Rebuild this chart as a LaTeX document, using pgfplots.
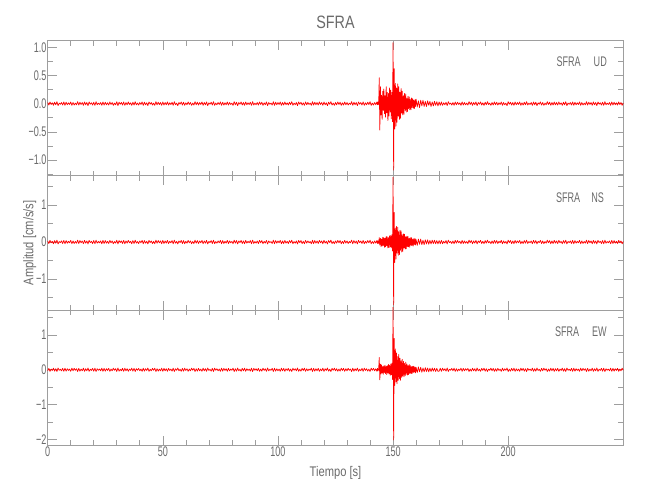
\documentclass[border=0pt]{standalone}
\usepackage{pgfplots}
\pgfplotsset{compat=1.18}
\usepackage{fontspec}
\setmainfont{Liberation Sans}[FakeStretch=0.65]
\newfontfamily\labelfont{Liberation Sans}[FakeStretch=0.8]
\definecolor{axgray}{gray}{0.62}
\definecolor{txtgray}{gray}{0.42}
\pgfplotsset{
 panel/.style={
  scale only axis, width=575.6bp, height=134.8bp,
  xmin=0, xmax=250,
  xtick={0,50,100,150,200}, minor x tick num=4,
  tick align=inside,
  axis line style={draw=axgray, line width=0.6bp},
  tick style={draw=axgray, line width=0.6bp},
  major tick length=9.5bp, minor tick length=5bp,
  tick label style={font=\fontsize{14}{14}\selectfont, text=txtgray},
  yticklabel style={inner sep=1bp},
  xticklabel style={inner sep=1.5bp},
  clip=false,
  anchor=north west,
 },
 seis/.style={red, line width=0.7bp, line join=round, mark=none},
}
\begin{document}
\begin{tikzpicture}
\path[use as bounding box] (0bp,0bp) rectangle (650bp,-500bp);
% ---------- UD ----------
\begin{axis}[panel, at={(47.7bp,-40.7bp)},
  ymin=-1.275, ymax=1.117,
  ytick={-1,-0.5,0,0.5,1}, yticklabels={−1.0,−0.5,0.0,0.5,1.0},
  minor ytick={-1.25,-0.75,-0.25,0.25,0.75},
  xticklabels={}]
\addplot[seis] table[x=t,y=v,row sep=\\]{t v\\
0 0.02\\0.5 -0.025\\1 0.03\\1.5 -0.015\\2 0.015\\2.5 -0.03\\3 0.025\\3.5 -0.02\\4 0.035\\4.5 -0.035\\5 0.01\\5.5 -0.01\\6 0.02\\6.5 -0.025\\7 0.03\\7.5 -0.03\\8 0.025\\8.5 -0.02\\9 0.015\\9.5 -0.015\\
10 0.03\\10.5 -0.03\\11 0.02\\11.5 -0.025\\12 0.01\\12.5 -0.02\\13 0.035\\13.5 -0.025\\14 0.025\\14.5 -0.015\\15 0.02\\15.5 -0.03\\16 0.03\\16.5 -0.02\\17 0.02\\17.5 -0.035\\18 0.03\\18.5 -0.01\\19 0.015\\19.5 -0.025\\
20 0.025\\20.5 -0.03\\21 0.035\\21.5 -0.02\\22 0.01\\22.5 -0.015\\23 0.02\\23.5 -0.03\\24 0.03\\24.5 -0.025\\25 0.025\\25.5 -0.02\\26 0.015\\26.5 -0.025\\27 0.03\\27.5 -0.015\\28 0.02\\28.5 -0.03\\29 0.01\\29.5 -0.02\\
30 0.035\\30.5 -0.035\\31 0.025\\31.5 -0.01\\32 0.02\\32.5 -0.025\\33 0.03\\33.5 -0.03\\34 0.02\\34.5 -0.02\\35 0.03\\35.5 -0.015\\36 0.015\\36.5 -0.03\\37 0.025\\37.5 -0.025\\38 0.035\\38.5 -0.02\\39 0.01\\39.5 -0.025\\
40 0.02\\40.5 -0.015\\41 0.03\\41.5 -0.03\\42 0.025\\42.5 -0.02\\43 0.015\\43.5 -0.035\\44 0.03\\44.5 -0.01\\45 0.02\\45.5 -0.025\\46 0.01\\46.5 -0.03\\47 0.035\\47.5 -0.02\\48 0.025\\48.5 -0.015\\49 0.02\\49.5 -0.03\\
50 0.03\\50.5 -0.025\\51 0.02\\51.5 -0.02\\52 0.03\\52.5 -0.025\\53 0.015\\53.5 -0.015\\54 0.025\\54.5 -0.03\\55 0.035\\55.5 -0.02\\56 0.01\\56.5 -0.035\\57 0.02\\57.5 -0.01\\58 0.03\\58.5 -0.025\\59 0.025\\59.5 -0.03\\
60 0.015\\60.5 -0.02\\61 0.03\\61.5 -0.015\\62 0.02\\62.5 -0.03\\63 0.01\\63.5 -0.025\\64 0.035\\64.5 -0.02\\65 0.025\\65.5 -0.025\\66 0.02\\66.5 -0.015\\67 0.03\\67.5 -0.03\\68 0.02\\68.5 -0.02\\69 0.03\\69.5 -0.035\\
70 0.015\\70.5 -0.01\\71 0.025\\71.5 -0.025\\72 0.035\\72.5 -0.03\\73 0.01\\73.5 -0.02\\74 0.02\\74.5 -0.015\\75 0.03\\75.5 -0.03\\76 0.025\\76.5 -0.025\\77 0.015\\77.5 -0.02\\78 0.03\\78.5 -0.025\\79 0.02\\79.5 -0.015\\
80 0.01\\80.5 -0.03\\81 0.035\\81.5 -0.02\\82 0.025\\82.5 -0.035\\83 0.02\\83.5 -0.01\\84 0.03\\84.5 -0.025\\85 0.02\\85.5 -0.03\\86 0.03\\86.5 -0.02\\87 0.015\\87.5 -0.015\\88 0.025\\88.5 -0.03\\89 0.035\\89.5 -0.025\\
90 0.01\\90.5 -0.02\\91 0.02\\91.5 -0.025\\92 0.03\\92.5 -0.015\\93 0.025\\93.5 -0.03\\94 0.015\\94.5 -0.02\\95 0.03\\95.5 -0.035\\96 0.02\\96.5 -0.01\\97 0.01\\97.5 -0.025\\98 0.035\\98.5 -0.03\\99 0.025\\99.5 -0.02\\
100 0.02\\100.5 -0.015\\101 0.03\\101.5 -0.03\\102 0.02\\102.5 -0.025\\103 0.03\\103.5 -0.02\\104 0.015\\104.5 -0.025\\105 0.025\\105.5 -0.015\\106 0.035\\106.5 -0.03\\107 0.01\\107.5 -0.02\\108 0.02\\108.5 -0.035\\109 0.03\\109.5 -0.01\\
110 0.025\\110.5 -0.025\\111 0.015\\111.5 -0.03\\112 0.03\\112.5 -0.02\\113 0.02\\113.5 -0.015\\114 0.01\\114.5 -0.03\\115 0.035\\115.5 -0.025\\116 0.025\\116.5 -0.02\\117 0.02\\117.5 -0.025\\118 0.03\\118.5 -0.015\\119 0.02\\119.5 -0.03\\
120 0.03\\120.5 -0.02\\121 0.015\\121.5 -0.035\\122 0.025\\122.5 -0.01\\123 0.035\\123.5 -0.025\\124 0.01\\124.5 -0.03\\125 0.02\\125.5 -0.02\\126 0.03\\126.5 -0.015\\127 0.025\\127.5 -0.03\\128 0.015\\128.5 -0.025\\129 0.03\\129.5 -0.02\\
130 0.02\\130.5 -0.025\\131 0.01\\131.5 -0.015\\132 0.035\\132.5 -0.03\\133 0.025\\133.5 -0.02\\134 0.02\\134.5 -0.035\\135 0.03\\135.5 -0.01\\136 0.02\\136.5 -0.025\\137 0.03\\137.5 -0.03\\138 0.015\\138.5 -0.02\\139 0.025\\139.5 -0.015\\
140 0.035\\140.5 -0.03\\141 0.01\\141.5 -0.025\\142 0.02\\142.5 -0.02\\143 0.03\\
143.25 -0.02\\143.5 0.03\\143.75 -0.02\\144 0.46\\144.25 -0.47\\144.5 0.30\\144.75 -0.20\\145 0.15\\145.25 -0.28\\145.5 0.22\\145.75 -0.12\\
146 0.26\\146.25 -0.18\\146.5 0.14\\146.75 -0.24\\147 0.30\\147.25 -0.16\\147.5 0.20\\147.75 -0.30\\148 0.18\\148.25 -0.22\\148.5 0.28\\148.75 -0.15\\
149 0.24\\149.25 -0.27\\149.5 0.20\\149.75 -0.32\\150 1.08\\150.25 -1.18\\150.5 0.62\\150.75 -0.45\\151 0.36\\151.25 -0.40\\151.5 0.28\\151.75 -0.33\\
152 0.35\\152.25 -0.22\\152.5 0.30\\152.75 -0.28\\153 0.20\\153.25 -0.26\\153.5 0.27\\153.75 -0.17\\154 0.22\\154.25 -0.20\\154.5 0.14\\154.75 -0.19\\
155 0.18\\155.25 -0.12\\155.5 0.17\\155.75 -0.15\\156 0.10\\156.25 -0.14\\156.5 0.13\\156.75 -0.09\\157 0.12\\157.25 -0.11\\157.5 0.08\\157.75 -0.11\\
158 0.10\\158.25 -0.07\\158.5 0.09\\158.75 -0.08\\159 0.06\\159.25 -0.09\\159.5 0.07\\159.75 -0.05\\160 0.08\\160.5 -0.06\\161 0.05\\161.5 -0.07\\
162 0.06\\162.5 -0.04\\163 0.06\\163.5 -0.05\\164 0.04\\164.5 -0.05\\165 0.05\\165.5 -0.03\\166 0.04\\166.5 -0.05\\167 0.03\\167.5 -0.04\\
168 0.04\\168.5 -0.03\\169 0.035\\169.5 -0.04\\170 0.03\\170.5 -0.03\\
171 0.03\\171.5 -0.03\\172 0.015\\172.5 -0.02\\173 0.025\\173.5 -0.035\\174 0.035\\174.5 -0.01\\175 0.01\\175.5 -0.025\\176 0.02\\176.5 -0.03\\177 0.03\\177.5 -0.02\\178 0.025\\178.5 -0.015\\179 0.015\\179.5 -0.03\\180 0.03\\180.5 -0.025\\
181 0.02\\181.5 -0.02\\182 0.01\\182.5 -0.025\\183 0.035\\183.5 -0.015\\184 0.025\\184.5 -0.03\\185 0.02\\185.5 -0.02\\186 0.03\\186.5 -0.035\\187 0.02\\187.5 -0.01\\188 0.03\\188.5 -0.025\\189 0.015\\189.5 -0.03\\190 0.025\\190.5 -0.02\\
191 0.035\\191.5 -0.015\\192 0.01\\192.5 -0.03\\193 0.02\\193.5 -0.025\\194 0.03\\194.5 -0.02\\195 0.025\\195.5 -0.025\\196 0.015\\196.5 -0.015\\197 0.03\\197.5 -0.03\\198 0.02\\198.5 -0.02\\199 0.01\\199.5 -0.035\\200 0.035\\200.5 -0.01\\
201 0.025\\201.5 -0.025\\202 0.02\\202.5 -0.03\\203 0.03\\203.5 -0.02\\204 0.02\\204.5 -0.015\\205 0.03\\205.5 -0.03\\206 0.015\\206.5 -0.025\\207 0.025\\207.5 -0.02\\208 0.035\\208.5 -0.025\\209 0.01\\209.5 -0.015\\210 0.02\\210.5 -0.03\\
211 0.03\\211.5 -0.02\\212 0.025\\212.5 -0.035\\213 0.015\\213.5 -0.01\\214 0.03\\214.5 -0.025\\215 0.02\\215.5 -0.03\\216 0.01\\216.5 -0.02\\217 0.035\\217.5 -0.015\\218 0.025\\218.5 -0.03\\219 0.02\\219.5 -0.025\\220 0.03\\220.5 -0.02\\
221 0.02\\221.5 -0.025\\222 0.03\\222.5 -0.015\\223 0.015\\223.5 -0.03\\224 0.025\\224.5 -0.02\\225 0.035\\225.5 -0.035\\226 0.01\\226.5 -0.01\\227 0.02\\227.5 -0.025\\228 0.03\\228.5 -0.03\\229 0.025\\229.5 -0.02\\230 0.015\\230.5 -0.015\\
231 0.03\\231.5 -0.03\\232 0.02\\232.5 -0.025\\233 0.01\\233.5 -0.02\\234 0.035\\234.5 -0.025\\235 0.025\\235.5 -0.015\\236 0.02\\236.5 -0.03\\237 0.03\\237.5 -0.02\\238 0.02\\238.5 -0.035\\239 0.03\\239.5 -0.01\\240 0.015\\240.5 -0.025\\
241 0.025\\241.5 -0.03\\242 0.035\\242.5 -0.02\\243 0.01\\243.5 -0.015\\244 0.02\\244.5 -0.03\\245 0.03\\245.5 -0.025\\246 0.025\\246.5 -0.02\\247 0.015\\247.5 -0.025\\248 0.03\\248.5 -0.015\\249 0.02\\249.5 -0.03\\250 0.01\\
};
\node[anchor=base, text=txtgray, font=\labelfont\fontsize{18}{18}\selectfont] at (rel axis cs:0.5,1.094) {SFRA};
\node[anchor=base east, text=txtgray, font=\fontsize{14}{14}\selectfont, inner sep=0pt] at (rel axis cs:0.9717,0.807) {SFRA\hspace{13bp}UD};
\end{axis}
% ---------- NS ----------
\begin{axis}[panel, at={(47.7bp,-175.5bp)},
  ymin=-1.843, ymax=1.797,
  ytick={-1,0,1}, yticklabels={−1,0,1},
  minor ytick={-1.5,-0.5,0.5,1.5},
  xticklabels={}]
\addplot[seis] table[x=t,y=v,row sep=\\]{t v\\
0 0.03\\0.5 -0.04\\1 0.045\\1.5 -0.02\\2 0.02\\2.5 -0.045\\3 0.04\\3.5 -0.03\\4 0.05\\4.5 -0.05\\5 0.015\\5.5 -0.015\\6 0.03\\6.5 -0.04\\7 0.045\\7.5 -0.045\\8 0.04\\8.5 -0.03\\9 0.02\\9.5 -0.02\\
10 0.045\\10.5 -0.045\\11 0.03\\11.5 -0.04\\12 0.015\\12.5 -0.03\\13 0.05\\13.5 -0.04\\14 0.04\\14.5 -0.02\\15 0.03\\15.5 -0.045\\16 0.045\\16.5 -0.03\\17 0.03\\17.5 -0.05\\18 0.045\\18.5 -0.015\\19 0.02\\19.5 -0.04\\
20 0.04\\20.5 -0.045\\21 0.05\\21.5 -0.03\\22 0.015\\22.5 -0.02\\23 0.03\\23.5 -0.045\\24 0.045\\24.5 -0.04\\25 0.04\\25.5 -0.03\\26 0.02\\26.5 -0.04\\27 0.045\\27.5 -0.02\\28 0.03\\28.5 -0.045\\29 0.015\\29.5 -0.03\\
30 0.05\\30.5 -0.05\\31 0.04\\31.5 -0.015\\32 0.03\\32.5 -0.04\\33 0.045\\33.5 -0.045\\34 0.03\\34.5 -0.03\\35 0.045\\35.5 -0.02\\36 0.02\\36.5 -0.045\\37 0.04\\37.5 -0.04\\38 0.05\\38.5 -0.03\\39 0.015\\39.5 -0.04\\
40 0.03\\40.5 -0.02\\41 0.045\\41.5 -0.045\\42 0.04\\42.5 -0.03\\43 0.02\\43.5 -0.05\\44 0.045\\44.5 -0.015\\45 0.03\\45.5 -0.04\\46 0.015\\46.5 -0.045\\47 0.05\\47.5 -0.03\\48 0.04\\48.5 -0.02\\49 0.03\\49.5 -0.045\\
50 0.045\\50.5 -0.04\\51 0.03\\51.5 -0.03\\52 0.045\\52.5 -0.04\\53 0.02\\53.5 -0.02\\54 0.04\\54.5 -0.045\\55 0.05\\55.5 -0.03\\56 0.015\\56.5 -0.05\\57 0.03\\57.5 -0.015\\58 0.045\\58.5 -0.04\\59 0.04\\59.5 -0.045\\
60 0.02\\60.5 -0.03\\61 0.045\\61.5 -0.02\\62 0.03\\62.5 -0.045\\63 0.015\\63.5 -0.04\\64 0.05\\64.5 -0.03\\65 0.04\\65.5 -0.04\\66 0.03\\66.5 -0.02\\67 0.045\\67.5 -0.045\\68 0.03\\68.5 -0.03\\69 0.045\\69.5 -0.05\\
70 0.02\\70.5 -0.015\\71 0.04\\71.5 -0.04\\72 0.05\\72.5 -0.045\\73 0.015\\73.5 -0.03\\74 0.03\\74.5 -0.02\\75 0.045\\75.5 -0.045\\76 0.04\\76.5 -0.04\\77 0.02\\77.5 -0.03\\78 0.045\\78.5 -0.04\\79 0.03\\79.5 -0.02\\
80 0.015\\80.5 -0.045\\81 0.05\\81.5 -0.03\\82 0.04\\82.5 -0.05\\83 0.03\\83.5 -0.015\\84 0.045\\84.5 -0.04\\85 0.03\\85.5 -0.045\\86 0.045\\86.5 -0.03\\87 0.02\\87.5 -0.02\\88 0.04\\88.5 -0.045\\89 0.05\\89.5 -0.04\\
90 0.015\\90.5 -0.03\\91 0.03\\91.5 -0.04\\92 0.045\\92.5 -0.02\\93 0.04\\93.5 -0.045\\94 0.02\\94.5 -0.03\\95 0.045\\95.5 -0.05\\96 0.03\\96.5 -0.015\\97 0.015\\97.5 -0.04\\98 0.05\\98.5 -0.045\\99 0.04\\99.5 -0.03\\
100 0.03\\100.5 -0.02\\101 0.045\\101.5 -0.045\\102 0.03\\102.5 -0.04\\103 0.045\\103.5 -0.03\\104 0.02\\104.5 -0.04\\105 0.04\\105.5 -0.02\\106 0.05\\106.5 -0.045\\107 0.015\\107.5 -0.03\\108 0.03\\108.5 -0.05\\109 0.045\\109.5 -0.015\\
110 0.04\\110.5 -0.04\\111 0.02\\111.5 -0.045\\112 0.045\\112.5 -0.03\\113 0.03\\113.5 -0.02\\114 0.015\\114.5 -0.045\\115 0.05\\115.5 -0.04\\116 0.04\\116.5 -0.03\\117 0.03\\117.5 -0.04\\118 0.045\\118.5 -0.02\\119 0.03\\119.5 -0.045\\
120 0.045\\120.5 -0.03\\121 0.02\\121.5 -0.05\\122 0.04\\122.5 -0.015\\123 0.05\\123.5 -0.04\\124 0.015\\124.5 -0.045\\125 0.03\\125.5 -0.03\\126 0.045\\126.5 -0.02\\127 0.04\\127.5 -0.045\\128 0.02\\128.5 -0.04\\129 0.045\\129.5 -0.03\\
130 0.03\\130.5 -0.04\\131 0.015\\131.5 -0.02\\132 0.05\\132.5 -0.045\\133 0.04\\133.5 -0.03\\134 0.03\\134.5 -0.05\\135 0.045\\135.5 -0.015\\136 0.03\\136.5 -0.04\\137 0.045\\137.5 -0.045\\138 0.02\\138.5 -0.03\\139 0.04\\139.5 -0.02\\
140 0.05\\140.5 -0.045\\141 0.015\\141.5 -0.04\\142 0.03\\142.5 -0.03\\143 0.045\\
143.25 -0.04\\143.5 0.03\\143.75 -0.04\\144 0.12\\144.25 -0.08\\144.5 0.10\\144.75 -0.12\\145 0.08\\145.25 -0.11\\145.5 0.13\\145.75 -0.09\\
146 0.12\\146.25 -0.14\\146.5 0.10\\146.75 -0.13\\147 0.15\\147.25 -0.10\\147.5 0.14\\147.75 -0.16\\148 0.12\\148.25 -0.15\\148.5 0.17\\148.75 -0.13\\
149 0.18\\149.25 -0.16\\149.5 0.20\\149.75 -0.24\\150 1.75\\150.25 -1.70\\150.5 0.80\\150.75 -0.55\\151 0.38\\151.25 -0.46\\151.5 0.42\\151.75 -0.30\\
152 0.40\\152.25 -0.36\\152.5 0.28\\152.75 -0.34\\153 0.32\\153.25 -0.22\\153.5 0.30\\153.75 -0.27\\154 0.20\\154.25 -0.25\\154.5 0.22\\154.75 -0.16\\
155 0.21\\155.25 -0.19\\155.5 0.14\\155.75 -0.18\\156 0.16\\156.25 -0.12\\156.5 0.15\\156.75 -0.13\\157 0.10\\157.25 -0.14\\157.5 0.12\\157.75 -0.09\\
158 0.12\\158.25 -0.10\\158.5 0.08\\158.75 -0.11\\159 0.09\\159.25 -0.07\\159.5 0.10\\159.75 -0.08\\160 0.07\\160.5 -0.09\\161 0.08\\161.5 -0.06\\
162 0.08\\162.5 -0.07\\163 0.05\\163.5 -0.07\\164 0.06\\164.5 -0.05\\165 0.06\\165.5 -0.06\\166 0.045\\166.5 -0.05\\167 0.05\\167.5 -0.04\\
168 0.05\\168.5 -0.045\\169 0.04\\169.5 -0.05\\170 0.04\\170.5 -0.045\\
171 0.045\\171.5 -0.045\\172 0.02\\172.5 -0.03\\173 0.04\\173.5 -0.05\\174 0.05\\174.5 -0.015\\175 0.015\\175.5 -0.04\\176 0.03\\176.5 -0.045\\177 0.045\\177.5 -0.03\\178 0.04\\178.5 -0.02\\179 0.02\\179.5 -0.045\\180 0.045\\180.5 -0.04\\
181 0.03\\181.5 -0.03\\182 0.015\\182.5 -0.04\\183 0.05\\183.5 -0.02\\184 0.04\\184.5 -0.045\\185 0.03\\185.5 -0.03\\186 0.045\\186.5 -0.05\\187 0.03\\187.5 -0.015\\188 0.045\\188.5 -0.04\\189 0.02\\189.5 -0.045\\190 0.04\\190.5 -0.03\\
191 0.05\\191.5 -0.02\\192 0.015\\192.5 -0.045\\193 0.03\\193.5 -0.04\\194 0.045\\194.5 -0.03\\195 0.04\\195.5 -0.04\\196 0.02\\196.5 -0.02\\197 0.045\\197.5 -0.045\\198 0.03\\198.5 -0.03\\199 0.015\\199.5 -0.05\\200 0.05\\200.5 -0.015\\
201 0.04\\201.5 -0.04\\202 0.03\\202.5 -0.045\\203 0.045\\203.5 -0.03\\204 0.03\\204.5 -0.02\\205 0.045\\205.5 -0.045\\206 0.02\\206.5 -0.04\\207 0.04\\207.5 -0.03\\208 0.05\\208.5 -0.04\\209 0.015\\209.5 -0.02\\210 0.03\\210.5 -0.045\\
211 0.045\\211.5 -0.03\\212 0.04\\212.5 -0.05\\213 0.02\\213.5 -0.015\\214 0.045\\214.5 -0.04\\215 0.03\\215.5 -0.045\\216 0.015\\216.5 -0.03\\217 0.05\\217.5 -0.02\\218 0.04\\218.5 -0.045\\219 0.03\\219.5 -0.04\\220 0.045\\220.5 -0.03\\
221 0.03\\221.5 -0.04\\222 0.045\\222.5 -0.02\\223 0.02\\223.5 -0.045\\224 0.04\\224.5 -0.03\\225 0.05\\225.5 -0.05\\226 0.015\\226.5 -0.015\\227 0.03\\227.5 -0.04\\228 0.045\\228.5 -0.045\\229 0.04\\229.5 -0.03\\230 0.02\\230.5 -0.02\\
231 0.045\\231.5 -0.045\\232 0.03\\232.5 -0.04\\233 0.015\\233.5 -0.03\\234 0.05\\234.5 -0.04\\235 0.04\\235.5 -0.02\\236 0.03\\236.5 -0.045\\237 0.045\\237.5 -0.03\\238 0.03\\238.5 -0.05\\239 0.045\\239.5 -0.015\\240 0.02\\240.5 -0.04\\
241 0.04\\241.5 -0.045\\242 0.05\\242.5 -0.03\\243 0.015\\243.5 -0.02\\244 0.03\\244.5 -0.045\\245 0.045\\245.5 -0.04\\246 0.04\\246.5 -0.03\\247 0.02\\247.5 -0.04\\248 0.045\\248.5 -0.02\\249 0.03\\249.5 -0.045\\250 0.015\\
};
\node[anchor=base east, text=txtgray, font=\fontsize{14}{14}\selectfont, inner sep=0pt] at (rel axis cs:0.9666,0.798) {SFRA\hspace{11bp}NS};
\node[rotate=90, anchor=center, text=txtgray, font=\labelfont\fontsize{14}{14}\selectfont] at (rel axis cs:-0.031,0.5) {Amplitud [cm/s/s]};
\end{axis}
% ---------- EW ----------
\begin{axis}[panel, at={(47.7bp,-310.2bp)},
  ymin=-2.164, ymax=1.713,
  ytick={-2,-1,0,1}, yticklabels={−2,−1,0,1},
  minor ytick={-1.5,-0.5,0.5,1.5},
  xticklabels={0,50,100,150,200}]
\addplot[seis] table[x=t,y=v,row sep=\\]{t v\\
0 -0.03\\0.5 0.04\\1 -0.045\\1.5 0.02\\2 -0.02\\2.5 0.045\\3 -0.04\\3.5 0.03\\4 -0.05\\4.5 0.05\\5 -0.015\\5.5 0.015\\6 -0.03\\6.5 0.04\\7 -0.045\\7.5 0.045\\8 -0.04\\8.5 0.03\\9 -0.02\\9.5 0.02\\
10 -0.045\\10.5 0.045\\11 -0.03\\11.5 0.04\\12 -0.015\\12.5 0.03\\13 -0.05\\13.5 0.04\\14 -0.04\\14.5 0.02\\15 -0.03\\15.5 0.045\\16 -0.045\\16.5 0.03\\17 -0.03\\17.5 0.05\\18 -0.045\\18.5 0.015\\19 -0.02\\19.5 0.04\\
20 -0.04\\20.5 0.045\\21 -0.05\\21.5 0.03\\22 -0.015\\22.5 0.02\\23 -0.03\\23.5 0.045\\24 -0.045\\24.5 0.04\\25 -0.04\\25.5 0.03\\26 -0.02\\26.5 0.04\\27 -0.045\\27.5 0.02\\28 -0.03\\28.5 0.045\\29 -0.015\\29.5 0.03\\
30 -0.05\\30.5 0.05\\31 -0.04\\31.5 0.015\\32 -0.03\\32.5 0.04\\33 -0.045\\33.5 0.045\\34 -0.03\\34.5 0.03\\35 -0.045\\35.5 0.02\\36 -0.02\\36.5 0.045\\37 -0.04\\37.5 0.04\\38 -0.05\\38.5 0.03\\39 -0.015\\39.5 0.04\\
40 -0.03\\40.5 0.02\\41 -0.045\\41.5 0.045\\42 -0.04\\42.5 0.03\\43 -0.02\\43.5 0.05\\44 -0.045\\44.5 0.015\\45 -0.03\\45.5 0.04\\46 -0.015\\46.5 0.045\\47 -0.05\\47.5 0.03\\48 -0.04\\48.5 0.02\\49 -0.03\\49.5 0.045\\
50 -0.045\\50.5 0.04\\51 -0.03\\51.5 0.03\\52 -0.045\\52.5 0.04\\53 -0.02\\53.5 0.02\\54 -0.04\\54.5 0.045\\55 -0.05\\55.5 0.03\\56 -0.015\\56.5 0.05\\57 -0.03\\57.5 0.015\\58 -0.045\\58.5 0.04\\59 -0.04\\59.5 0.045\\
60 -0.02\\60.5 0.03\\61 -0.045\\61.5 0.02\\62 -0.03\\62.5 0.045\\63 -0.015\\63.5 0.04\\64 -0.05\\64.5 0.03\\65 -0.04\\65.5 0.04\\66 -0.03\\66.5 0.02\\67 -0.045\\67.5 0.045\\68 -0.03\\68.5 0.03\\69 -0.045\\69.5 0.05\\
70 -0.02\\70.5 0.015\\71 -0.04\\71.5 0.04\\72 -0.05\\72.5 0.045\\73 -0.015\\73.5 0.03\\74 -0.03\\74.5 0.02\\75 -0.045\\75.5 0.045\\76 -0.04\\76.5 0.04\\77 -0.02\\77.5 0.03\\78 -0.045\\78.5 0.04\\79 -0.03\\79.5 0.02\\
80 -0.015\\80.5 0.045\\81 -0.05\\81.5 0.03\\82 -0.04\\82.5 0.05\\83 -0.03\\83.5 0.015\\84 -0.045\\84.5 0.04\\85 -0.03\\85.5 0.045\\86 -0.045\\86.5 0.03\\87 -0.02\\87.5 0.02\\88 -0.04\\88.5 0.045\\89 -0.05\\89.5 0.04\\
90 -0.015\\90.5 0.03\\91 -0.03\\91.5 0.04\\92 -0.045\\92.5 0.02\\93 -0.04\\93.5 0.045\\94 -0.02\\94.5 0.03\\95 -0.045\\95.5 0.05\\96 -0.03\\96.5 0.015\\97 -0.015\\97.5 0.04\\98 -0.05\\98.5 0.045\\99 -0.04\\99.5 0.03\\
100 -0.03\\100.5 0.02\\101 -0.045\\101.5 0.045\\102 -0.03\\102.5 0.04\\103 -0.045\\103.5 0.03\\104 -0.02\\104.5 0.04\\105 -0.04\\105.5 0.02\\106 -0.05\\106.5 0.045\\107 -0.015\\107.5 0.03\\108 -0.03\\108.5 0.05\\109 -0.045\\109.5 0.015\\
110 -0.04\\110.5 0.04\\111 -0.02\\111.5 0.045\\112 -0.045\\112.5 0.03\\113 -0.03\\113.5 0.02\\114 -0.015\\114.5 0.045\\115 -0.05\\115.5 0.04\\116 -0.04\\116.5 0.03\\117 -0.03\\117.5 0.04\\118 -0.045\\118.5 0.02\\119 -0.03\\119.5 0.045\\
120 -0.045\\120.5 0.03\\121 -0.02\\121.5 0.05\\122 -0.04\\122.5 0.015\\123 -0.05\\123.5 0.04\\124 -0.015\\124.5 0.045\\125 -0.03\\125.5 0.03\\126 -0.045\\126.5 0.02\\127 -0.04\\127.5 0.045\\128 -0.02\\128.5 0.04\\129 -0.045\\129.5 0.03\\
130 -0.03\\130.5 0.04\\131 -0.015\\131.5 0.02\\132 -0.05\\132.5 0.045\\133 -0.04\\133.5 0.03\\134 -0.03\\134.5 0.05\\135 -0.045\\135.5 0.015\\136 -0.03\\136.5 0.04\\137 -0.045\\137.5 0.045\\138 -0.02\\138.5 0.03\\139 -0.04\\139.5 0.02\\
140 -0.05\\140.5 0.045\\141 -0.015\\141.5 0.04\\142 -0.03\\142.5 0.03\\143 -0.045\\
143.25 0.04\\143.5 -0.03\\143.75 0.03\\144 0.35\\144.25 -0.29\\144.5 0.16\\144.75 -0.12\\145 0.14\\145.25 -0.10\\145.5 0.09\\145.75 -0.13\\
146 0.11\\146.25 -0.08\\146.5 0.13\\146.75 -0.11\\147 0.10\\147.25 -0.14\\147.5 0.12\\147.75 -0.10\\148 0.15\\148.25 -0.12\\148.5 0.13\\148.75 -0.16\\
149 0.17\\149.25 -0.14\\149.5 0.19\\149.75 -0.28\\150 1.80\\150.25 -2.02\\150.5 0.90\\150.75 -0.45\\151 0.60\\151.25 -0.35\\151.5 0.48\\151.75 -0.40\\
152 0.38\\152.25 -0.30\\152.5 0.44\\152.75 -0.26\\153 0.33\\153.25 -0.30\\153.5 0.26\\153.75 -0.22\\154 0.30\\154.25 -0.18\\154.5 0.24\\154.75 -0.20\\
155 0.18\\155.25 -0.17\\155.5 0.22\\155.75 -0.13\\156 0.17\\156.25 -0.15\\156.5 0.12\\156.75 -0.14\\157 0.15\\157.25 -0.10\\157.5 0.12\\157.75 -0.11\\
158 0.09\\158.25 -0.11\\158.5 0.10\\158.75 -0.08\\159 0.10\\159.25 -0.07\\159.5 0.08\\159.75 -0.09\\160 0.07\\160.5 -0.08\\161 0.08\\161.5 -0.06\\
162 0.07\\162.5 -0.07\\163 0.05\\163.5 -0.06\\164 0.06\\164.5 -0.05\\165 0.05\\165.5 -0.06\\166 0.045\\166.5 -0.05\\167 0.05\\167.5 -0.04\\
168 0.045\\168.5 -0.05\\169 0.04\\169.5 -0.045\\170 -0.04\\170.5 0.045\\
171 -0.045\\171.5 0.045\\172 -0.02\\172.5 0.03\\173 -0.04\\173.5 0.05\\174 -0.05\\174.5 0.015\\175 -0.015\\175.5 0.04\\176 -0.03\\176.5 0.045\\177 -0.045\\177.5 0.03\\178 -0.04\\178.5 0.02\\179 -0.02\\179.5 0.045\\180 -0.045\\180.5 0.04\\
181 -0.03\\181.5 0.03\\182 -0.015\\182.5 0.04\\183 -0.05\\183.5 0.02\\184 -0.04\\184.5 0.045\\185 -0.03\\185.5 0.03\\186 -0.045\\186.5 0.05\\187 -0.03\\187.5 0.015\\188 -0.045\\188.5 0.04\\189 -0.02\\189.5 0.045\\190 -0.04\\190.5 0.03\\
191 -0.05\\191.5 0.02\\192 -0.015\\192.5 0.045\\193 -0.03\\193.5 0.04\\194 -0.045\\194.5 0.03\\195 -0.04\\195.5 0.04\\196 -0.02\\196.5 0.02\\197 -0.045\\197.5 0.045\\198 -0.03\\198.5 0.03\\199 -0.015\\199.5 0.05\\200 -0.05\\200.5 0.015\\
201 -0.04\\201.5 0.04\\202 -0.03\\202.5 0.045\\203 -0.045\\203.5 0.03\\204 -0.03\\204.5 0.02\\205 -0.045\\205.5 0.045\\206 -0.02\\206.5 0.04\\207 -0.04\\207.5 0.03\\208 -0.05\\208.5 0.04\\209 -0.015\\209.5 0.02\\210 -0.03\\210.5 0.045\\
211 -0.045\\211.5 0.03\\212 -0.04\\212.5 0.05\\213 -0.02\\213.5 0.015\\214 -0.045\\214.5 0.04\\215 -0.03\\215.5 0.045\\216 -0.015\\216.5 0.03\\217 -0.05\\217.5 0.02\\218 -0.04\\218.5 0.045\\219 -0.03\\219.5 0.04\\220 -0.045\\220.5 0.03\\
221 -0.03\\221.5 0.04\\222 -0.045\\222.5 0.02\\223 -0.02\\223.5 0.045\\224 -0.04\\224.5 0.03\\225 -0.05\\225.5 0.05\\226 -0.015\\226.5 0.015\\227 -0.03\\227.5 0.04\\228 -0.045\\228.5 0.045\\229 -0.04\\229.5 0.03\\230 -0.02\\230.5 0.02\\
231 -0.045\\231.5 0.045\\232 -0.03\\232.5 0.04\\233 -0.015\\233.5 0.03\\234 -0.05\\234.5 0.04\\235 -0.04\\235.5 0.02\\236 -0.03\\236.5 0.045\\237 -0.045\\237.5 0.03\\238 -0.03\\238.5 0.05\\239 -0.045\\239.5 0.015\\240 -0.02\\240.5 0.04\\
241 -0.04\\241.5 0.045\\242 -0.05\\242.5 0.03\\243 -0.015\\243.5 0.02\\244 -0.03\\244.5 0.045\\245 -0.045\\245.5 0.04\\246 -0.04\\246.5 0.03\\247 -0.02\\247.5 0.04\\248 -0.045\\248.5 0.02\\249 -0.03\\249.5 0.045\\250 -0.015\\
};
\node[anchor=base east, text=txtgray, font=\fontsize{14}{14}\selectfont, inner sep=0pt] at (rel axis cs:0.9717,0.807) {SFRA\hspace{13bp}EW};
\node[anchor=base, text=txtgray, font=\labelfont\fontsize{14}{14}\selectfont] at (rel axis cs:0.5,-0.23) {Tiempo [s]};
\end{axis}
\end{tikzpicture}
\end{document}
